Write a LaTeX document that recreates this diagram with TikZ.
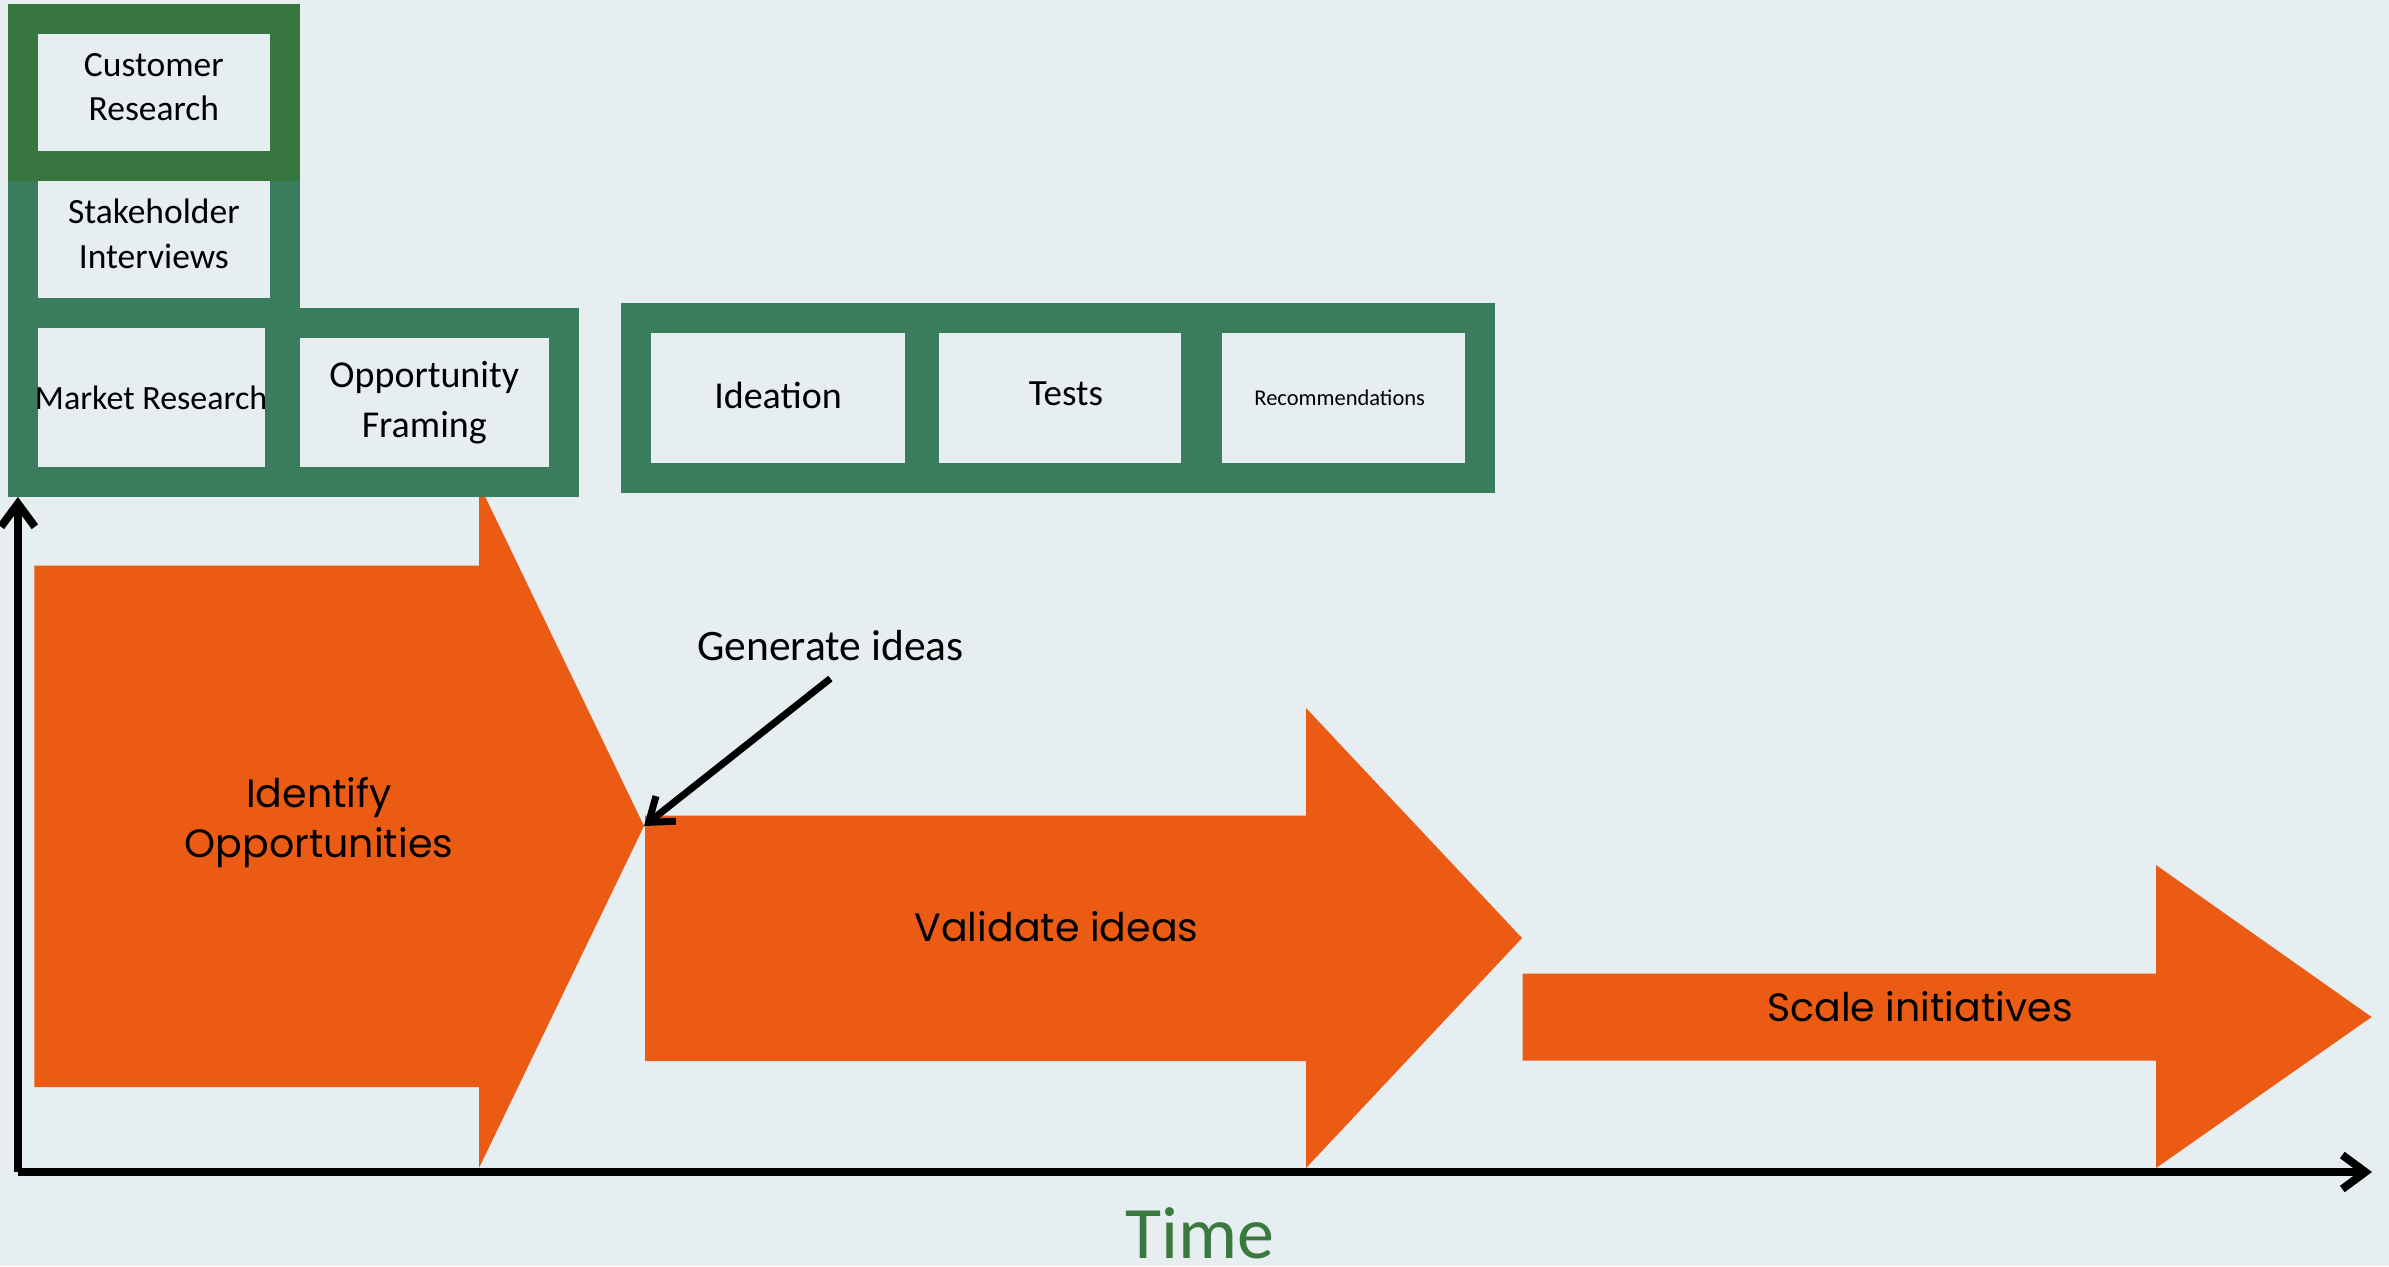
\documentclass[tikz,border=0pt]{standalone}
\usepackage{fontspec}
\setmainfont{Carlito}
\newfontfamily\popfont{Poppins}
\usetikzlibrary{arrows.meta}

\definecolor{bg}{HTML}{E7EEF1}
\definecolor{phasefill}{HTML}{EC5B13}
\definecolor{boxgreen}{HTML}{3A7D5C}
\definecolor{darkgreen}{HTML}{37773F}
\definecolor{timegreen}{HTML}{3A7A3E}

% invisible depth to lift centred text a little
\newcommand{\liftby}[1]{\rule[-#1]{0pt}{0pt}}

\tikzset{
  activity/.style={draw=boxgreen, line width=30pt, fill=bg, inner sep=0pt,
    align=center, text=black},
  phaseshape/.style={fill=phasefill},
  phaselabel/.style={font=\popfont\fontsize{39.5}{50}\selectfont, text=black,
    inner sep=0pt, align=center},
  axisline/.style={line width=8pt, black,
    -{Straight Barb[length=23pt,width=34pt,line width=8pt]}},
  pointer/.style={line width=7pt, black,
    -{Straight Barb[length=22pt,width=32pt,line width=7pt]}},
}

\begin{document}
\begin{tikzpicture}[x=1pt,y=-1pt]
  % canvas
  \fill[bg] (0,0) rectangle (2389,1266);
  \useasboundingbox (0,0) rectangle (2389,1266);

  % phase arrows
  \fill[phaseshape] (34.4,565.7) -- (479,565.7) -- (479,484) -- (644,826)
    -- (479,1168) -- (479,1087) -- (34.4,1087) -- cycle;
  \fill[phaseshape] (645,815.5) -- (1306,815.5) -- (1306,708) -- (1522,938)
    -- (1306,1168) -- (1306,1061) -- (645,1061) -- cycle;
  \fill[phaseshape] (1522.5,973.5) -- (2156,973.5) -- (2156,865) -- (2371.6,1017)
    -- (2156,1168) -- (2156,1060.7) -- (1522.5,1060.7) -- cycle;

  \coordinate (tipA) at (644,826);

  % axes
  \coordinate (origin) at (17.9,1172);
  \coordinate (ytop) at (17.9,497);
  \coordinate (xend) at (2372,1172);
  \draw[axisline] (origin) -- (ytop);
  \draw[axisline] (origin) -- (xend);

  % activity boxes
  \node[activity, minimum width=262.3pt, minimum height=147pt,
    font=\fontsize{35.5}{45}\selectfont] (stake) at (153.85,239.5)
    {Stakeholder\\Interviews\liftby{12pt}};
  \node[activity, minimum width=278.6pt, minimum height=159pt,
    font=\fontsize{38}{50}\selectfont] (frame) at (424.3,402.5)
    {Opportunity\\Framing};
  \node[activity, minimum width=256.8pt, minimum height=169pt,
    font=\fontsize{34}{44}\selectfont] (market) at (151.1,397.5)
    {Market Research};
  \node[activity, draw=darkgreen, minimum width=262.3pt, minimum height=147pt,
    font=\fontsize{35.5}{44}\selectfont] (cust) at (153.85,92.5)
    {Customer\\Research\liftby{12pt}};

  \node[activity, minimum width=284pt, minimum height=159.7pt,
    font=\fontsize{38}{46}\selectfont] (idea) at (778,397.9)
    {Ideation\liftby{6pt}};
  \node[activity, minimum width=272.9pt, minimum height=159.7pt,
    font=\fontsize{37}{46}\selectfont] (tests) at (1060,397.9)
    {\hspace*{12pt}Tests\liftby{9pt}};
  \node[activity, minimum width=273.4pt, minimum height=159.7pt,
    font=\fontsize{22.5}{28}\selectfont] (recs) at (1343.7,397.9)
    {Recommendations\hspace*{8pt}};

  % phase labels
  \node[phaselabel] (identify) at (319,823) {Identify\\Opportunities};
  \node[phaselabel, anchor=base] (validate) at (1056.5,941.7) {Validate ideas};
  \node[phaselabel, anchor=base] (scale) at (1920,1021) {Scale initiatives};

  % annotation
  \node[font=\fontsize{43.5}{50}\selectfont, anchor=base, inner sep=0pt] (gen)
    at (830.4,660) {Generate ideas};
  \draw[pointer] ([yshift=-18pt]gen.south) -- (tipA);

  % time label
  \node[font=\fontsize{74}{80}\selectfont, text=timegreen, anchor=base,
    inner sep=0pt] (time) at (1199.5,1258) {Time};
\end{tikzpicture}
\end{document}
